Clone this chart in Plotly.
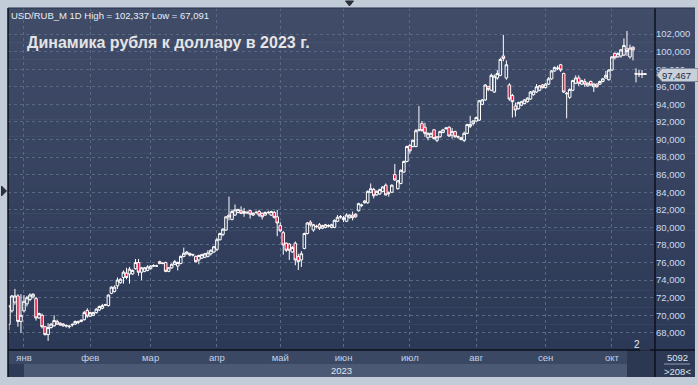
import plotly.graph_objects as go

# ---- data: USD/RUB daily candles (values in RUB) ----
opens = [
    68.97, 70.5, 71.5, 72.2, 69.3, 70.5, 71.3, 71.8, 72.1, 71.9,
    69.7, 70.0, 68.7, 67.8, 68.6, 68.8, 69.3, 69.1, 68.8, 68.85,
    68.7, 68.9, 69.0, 69.2, 69.3, 69.5, 70.55, 69.9, 70.0, 70.3,
    70.6, 70.8, 71.15, 71.1, 72.5, 72.7, 73.35, 73.7, 74.3, 74.8,
    74.7, 74.7, 75.3, 76.0, 74.9, 75.0, 75.1, 75.3, 75.6, 75.6,
    76.1, 75.95, 76.0, 75.0, 75.4, 75.8, 75.6, 75.9, 76.7, 77.0,
    77.05, 76.85, 76.7, 76.3, 76.5, 76.6, 76.7, 77.0, 77.2, 77.5,
    78.6, 79.2, 79.7, 81.4, 80.9, 81.4, 81.7, 81.9, 81.8, 81.65,
    81.9, 81.4, 81.7, 81.8, 81.6, 81.4, 81.7, 81.4, 81.7, 81.2,
    80.2, 79.4, 78.2, 78.1, 77.2, 78.2, 76.7, 76.3, 77.6, 79.3,
    80.6, 79.7, 80.1, 80.3, 79.9, 80.0, 80.15, 80.0, 80.0, 80.7,
    81.2, 80.9, 80.7, 81.1, 81.4, 81.2, 81.9, 82.55, 82.8, 82.8,
    84.0, 84.3, 83.7, 83.8, 84.1, 84.8, 83.9, 84.0, 86.0, 84.4,
    85.0, 86.3, 87.5, 89.3, 89.2, 89.2, 91.05, 91.8, 91.4, 90.2,
    90.3, 91.1, 89.9, 90.3, 90.8, 91.25, 91.4, 90.5, 90.9, 90.3,
    90.2, 89.9, 90.7, 91.5, 91.8, 92.1, 92.2, 94.0, 94.5, 96.0,
    95.6, 95.4, 97.0, 97.3, 99.5, 97.0, 96.2, 95.0, 93.8, 93.5,
    93.9, 94.1, 94.3, 94.6, 95.1, 95.4, 95.6, 96.2, 95.9, 96.3,
    96.9, 97.8, 98.1, 98.5, 97.5, 95.2, 94.8, 95.6, 96.4, 97.0,
    96.3, 96.6, 96.1, 96.6, 96.0, 96.3, 96.3, 96.6, 97.0, 96.8,
    97.9, 99.8, 99.4, 99.5, 99.6, 100.3, 99.4, 100.5, 97.5, 97.4,
    97.5, 97.4,
]
highs = [
    71.2, 72.3, 73.0, 72.4, 72.4, 72.3, 72.2, 72.5, 72.5, 72.1,
    70.3, 70.2, 68.8, 69.1, 69.1, 70.0, 69.5, 69.2, 69.1, 68.95,
    68.9, 69.1, 69.4, 69.4, 69.5, 70.5, 70.8, 70.4, 70.4, 70.8,
    71.1, 71.3, 71.3, 72.4, 73.3, 73.4, 74.3, 74.2, 75.1, 75.4,
    75.5, 75.2, 76.4, 76.4, 75.5, 75.5, 75.7, 75.7, 75.8, 75.75,
    76.2, 76.0, 76.1, 75.5, 75.9, 76.3, 76.1, 76.8, 77.7, 77.3,
    77.1, 77.0, 76.8, 76.9, 77.0, 77.1, 77.4, 77.5, 77.9, 78.8,
    79.4, 79.9, 81.3, 83.5, 82.0, 82.6, 82.1, 82.4, 82.2, 81.9,
    82.0, 81.7, 81.9, 82.0, 81.7, 81.8, 81.9, 81.9, 81.9, 82.0,
    80.6, 79.6, 78.3, 78.2, 77.9, 78.4, 77.0, 77.3, 79.4, 80.6,
    80.8, 80.4, 80.3, 80.5, 80.3, 80.4, 80.35, 80.4, 80.9, 81.4,
    81.4, 81.3, 81.6, 81.5, 81.8, 81.6, 82.8, 82.7, 83.1, 84.2,
    85.0, 84.5, 84.2, 84.4, 84.7, 85.0, 84.1, 84.9, 87.2, 85.4,
    86.6, 87.6, 89.3, 89.5, 90.0, 91.2, 93.8, 92.1, 91.9, 90.8,
    90.8, 91.2, 90.4, 91.0, 91.2, 91.4, 91.5, 91.3, 91.0, 90.45,
    90.3, 90.9, 91.8, 92.7, 92.2, 92.6, 94.5, 94.6, 96.3, 96.1,
    97.5, 97.4, 97.9, 99.3, 101.9, 99.0, 96.4, 95.2, 94.2, 94.3,
    94.4, 94.6, 94.8, 95.5, 95.6, 96.3, 96.2, 96.3, 96.4, 97.1,
    97.9, 98.3, 98.4, 98.6, 97.6, 95.4, 95.8, 96.8, 97.3, 97.3,
    96.8, 96.9, 96.5, 96.7, 96.4, 96.4, 96.7, 97.0, 97.8, 98.0,
    99.5, 99.9, 99.9, 100.3, 101.5, 102.337, 100.8, 100.6, 98.1, 97.9,
    97.9, 97.55,
]
lows = [
    68.3, 70.3, 71.2, 68.7, 68.0, 70.3, 71.0, 71.6, 71.9, 69.4,
    69.6, 68.5, 67.7, 67.091, 68.5, 68.7, 68.9, 68.8, 68.7, 68.6,
    68.5, 68.7, 68.9, 69.0, 69.2, 69.4, 69.7, 69.8, 69.9, 70.2,
    70.5, 70.7, 71.1, 71.0, 72.4, 72.6, 73.0, 73.6, 73.6, 74.1,
    73.6, 74.6, 75.2, 74.5, 74.0, 74.9, 75.0, 75.2, 75.5, 75.5,
    75.8, 75.8, 74.9, 74.9, 75.3, 75.7, 75.1, 75.8, 76.6, 76.9,
    76.7, 76.7, 76.0, 75.8, 76.4, 76.5, 76.6, 76.8, 77.1, 77.3,
    78.5, 79.0, 79.6, 80.8, 80.8, 81.3, 81.6, 81.5, 81.2, 81.5,
    81.0, 81.3, 81.5, 81.2, 80.9, 81.3, 81.5, 81.3, 81.0, 79.0,
    79.5, 76.9, 77.2, 76.3, 77.1, 75.7, 75.15, 75.5, 77.5, 79.2,
    80.1, 79.5, 79.9, 79.7, 79.8, 79.9, 80.0, 79.9, 79.9, 80.6,
    81.0, 80.6, 80.6, 81.0, 80.8, 81.1, 81.8, 82.3, 82.7, 82.7,
    83.9, 83.3, 83.6, 83.7, 84.0, 83.6, 83.5, 83.9, 85.3, 84.3,
    84.9, 86.2, 87.4, 88.4, 89.1, 89.1, 90.9, 90.9, 90.3, 89.9,
    90.2, 90.0, 89.7, 90.2, 90.7, 91.1, 90.3, 90.1, 90.2, 90.1,
    89.9, 89.7, 90.6, 91.3, 91.6, 92.0, 92.1, 93.9, 94.4, 95.5,
    95.5, 95.3, 96.8, 97.2, 98.9, 96.8, 94.4, 92.5, 92.6, 93.4,
    93.8, 94.0, 94.2, 94.5, 95.0, 95.3, 95.5, 95.8, 95.8, 96.2,
    96.8, 97.7, 97.9, 97.7, 95.3, 92.4, 94.6, 95.5, 96.3, 96.1,
    96.2, 96.0, 96.0, 96.1, 95.4, 95.9, 96.2, 96.5, 96.9, 96.7,
    97.8, 99.1, 99.3, 99.3, 99.5, 99.5, 99.2, 99.0, 96.5, 97.1,
    97.0, 97.35,
]
closes = [
    71.07, 72.2, 72.2, 69.3, 70.0, 71.6, 72.0, 72.3, 72.4, 69.7,
    70.2, 68.7, 67.8, 68.6, 69.0, 69.4, 69.0, 68.9, 69.0, 68.8,
    68.75, 68.95, 69.3, 69.25, 69.45, 70.3, 69.9, 70.3, 70.3, 70.7,
    71.0, 71.1, 71.2, 72.3, 73.2, 73.2, 74.0, 74.1, 74.9, 74.3,
    75.25, 75.1, 76.0, 74.9, 75.4, 75.4, 75.5, 75.6, 75.65, 75.6,
    75.9, 75.9, 75.0, 75.4, 75.8, 76.1, 76.0, 76.7, 77.05, 77.2,
    76.85, 76.9, 76.1, 76.8, 76.9, 77.0, 77.1, 77.4, 77.8, 78.6,
    79.3, 79.8, 81.2, 81.2, 81.8, 82.0, 82.05, 81.6, 81.6, 81.7,
    81.5, 81.6, 81.7, 81.4, 81.2, 81.7, 81.7, 81.8, 81.15, 80.5,
    79.6, 78.0, 77.4, 77.4, 77.7, 76.3, 76.1, 77.0, 79.3, 80.5,
    80.3, 80.3, 80.1, 79.9, 80.2, 80.3, 80.2, 80.3, 80.8, 81.15,
    81.2, 81.1, 81.4, 81.4, 81.1, 81.5, 82.7, 82.5, 83.0, 84.1,
    84.4, 83.6, 84.1, 84.3, 84.6, 83.7, 83.9, 84.8, 85.4, 85.3,
    86.5, 87.5, 89.2, 88.7, 89.9, 91.0, 91.1, 91.0, 90.7, 90.7,
    90.7, 90.1, 90.3, 90.9, 91.1, 91.3, 90.4, 90.9, 90.3, 90.3,
    90.0, 90.7, 91.7, 91.7, 92.1, 92.5, 94.4, 94.5, 96.2, 95.7,
    97.3, 97.2, 97.5, 99.1, 99.2, 98.5, 94.6, 94.3, 93.35, 94.2,
    94.3, 94.5, 94.7, 95.4, 95.5, 96.0, 96.1, 95.9, 96.3, 96.9,
    97.8, 98.2, 98.1, 97.9, 95.4, 95.25, 95.7, 96.7, 97.0, 96.4,
    96.7, 96.3, 96.4, 96.2, 96.3, 96.0, 96.6, 96.9, 97.3, 97.9,
    99.4, 99.3, 99.8, 100.2, 100.7, 100.0, 100.4, 100.2, 97.45, 97.45,
    97.4, 97.467,
]
bars = list(range(len(closes)))

month_labels = ["янв", "фев", "мар", "апр", "май", "июн", "июл", "авг", "сен", "окт"]
month_start_bar = [5, 27, 47, 69, 90, 111, 133, 155, 178, 200]

price_ticks = list(range(68, 104, 2))
price_tick_text = [f"{v:.3f}".replace(".", ",") for v in price_ticks]

last_price = closes[-1]
last_label = f"{last_price:.3f}".replace(".", ",")
header = "USD/RUB_M 1D High = {} Low = {}".format(
    f"{max(highs):.3f}".replace(".", ","), f"{min(lows):.3f}".replace(".", ","))
title = "Динамика рубля к доллару в 2023 г."

# ---- geometry helpers (pixel -> paper) ----
W, H = 698, 385
L, R, T, B = 8, 655, 8, 350
def X(px):
    return (px - L) / (R - L)
def Y(py):
    return (B - py) / (B - T)

shapes = []
# gradient background for plot + right price panel
n = 40
c_top = (64, 76, 104)
c_bot = (44, 57, 86)
for k in range(n):
    y0 = T + (B - T) * k / n
    y1 = T + (B - T) * (k + 1) / n + 0.5
    f = (k + 0.5) / n
    col = tuple(round(c_top[j] + (c_bot[j] - c_top[j]) * f) for j in range(3))
    shapes.append(dict(type="rect", xref="paper", yref="paper",
                       x0=X(L), x1=X(695), y0=Y(y1), y1=Y(y0),
                       fillcolor="rgb(%d,%d,%d)" % col, line=dict(width=0), layer="below"))
# bottom time-axis bands
def rect(x0, x1, y0, y1, color, layer="below"):
    shapes.append(dict(type="rect", xref="paper", yref="paper",
                       x0=X(x0), x1=X(x1), y0=Y(y1), y1=Y(y0),
                       fillcolor=color, line=dict(width=0), layer=layer))
rect(L, 627, 350, 364, "#3b4863")
rect(24, 627, 364, 377, "#4b5974")
rect(L, 24, 364, 377, "#2f3b56")
rect(627, 655, 350, 377, "#2c3852")
rect(655, 695, 350, 377, "#2e3a55")

def line(x0, y0, x1, y1, color="#0c111b", width=1.5, layer="above"):
    shapes.append(dict(type="line", xref="paper", yref="paper",
                       x0=X(x0), x1=X(x1), y0=Y(y0), y1=Y(y1),
                       line=dict(color=color, width=width), layer=layer))
line(L, 8, L, 377)
line(655, 8, 655, 377)
line(L, 350, 695, 350)
line(L, 8, 695, 8, color="#27314a", width=1)
line(664, 364, 690, 364, color="#8e9bb3", width=1)

def path(pts, fill, linecolor=None, layer="above"):
    d = "M " + " L ".join("%f,%f" % (X(a), Y(b)) for a, b in pts) + " Z"
    shapes.append(dict(type="path", xref="paper", yref="paper", path=d,
                       fillcolor=fill, line=dict(color=linecolor or fill, width=1), layer=layer))
# little triangles
path([(345.5, 1), (353.5, 1), (349.5, 6)], "#2a2f3a")
path([(1.5, 186), (6.5, 191), (1.5, 196)], "#2a2f3a")
path([(640, 350), (645, 345), (650, 350)], "#2c3852")
# current price tag
path([(662, 68.5), (698, 68.5), (698, 81.5), (662, 81.5), (656.5, 75)], "#c9d0d8", "#7d8aa0")

annotations = [
    dict(text=header, x=X(10), y=Y(15), xanchor="left", yanchor="middle",
         font=dict(family="Liberation Sans, Arial", size=9.5, color="#e8eef7")),
    dict(text=title, x=X(26), y=Y(42.5), xanchor="left", yanchor="middle",
         font=dict(family="Liberation Sans, Arial", size=16, color="#e4e4e6", weight="bold")),
    dict(text="2023", x=X(341), y=Y(370.5), xanchor="center", yanchor="middle",
         font=dict(family="Liberation Sans, Arial", size=9.5, color="#dfe7f2")),
    dict(text="2", x=X(637), y=Y(344.5), xanchor="center", yanchor="middle",
         font=dict(family="Liberation Sans, Arial", size=10, color="#e4ebf5")),
    dict(text="5092", x=X(677), y=Y(357.5), xanchor="center", yanchor="middle",
         font=dict(family="Liberation Sans, Arial", size=9.5, color="#dfe7f2")),
    dict(text="&gt;208&lt;", x=X(677), y=Y(371), xanchor="center", yanchor="middle",
         font=dict(family="Liberation Sans, Arial", size=9.5, color="#dfe7f2")),
    dict(text=last_label, x=X(676), y=Y(75), xanchor="center", yanchor="middle",
         font=dict(family="Liberation Sans, Arial", size=9.5, color="#1e2942")),
]
for a in annotations:
    a.update(xref="paper", yref="paper", showarrow=False, borderpad=0)

fig = go.Figure()
fig.add_trace(go.Candlestick(
    x=bars, open=opens, high=highs, low=lows, close=closes,
    increasing=dict(line=dict(color="#ffffff", width=1), fillcolor="rgba(0,0,0,0)"),
    decreasing=dict(line=dict(color="#ffffff", width=1), fillcolor="#e5123d"),
    whiskerwidth=0, showlegend=False, hoverinfo="skip",
))

grid = "#5b6884"
fig.update_layout(
    width=W, height=H, autosize=False,
    margin=dict(l=L, r=W - R, t=T, b=H - B, pad=0),
    paper_bgcolor="#c2ccd9", plot_bgcolor="rgba(0,0,0,0)",
    shapes=shapes, annotations=annotations, showlegend=False,
    boxgap=0.15, boxgroupgap=0,
    xaxis=dict(range=[-0.3, 214.3], tickvals=month_start_bar, ticktext=month_labels,
               showgrid=True, gridcolor=grid, griddash="3px,3px", gridwidth=1,
               zeroline=False, showline=False, ticks="", automargin=False,
               rangeslider=dict(visible=False), fixedrange=True,
               tickfont=dict(family="Liberation Sans, Arial", size=9.5, color="#c3d0e6")),
    yaxis=dict(side="right", range=[66.05, 104.96], tickvals=price_ticks, ticktext=price_tick_text,
               showgrid=True, gridcolor=grid, griddash="3px,3px", gridwidth=1,
               zeroline=False, showline=False, ticks="", automargin=False, fixedrange=True,
               tickfont=dict(family="Liberation Sans, Arial", size=9.5, color="#cddaee")),
)

fig.write_html("out.html", config={"displayModeBar": False})

# remove the browser's default page margin so the figure sits at the window origin
with open("out.html", "r", encoding="utf-8") as fh:
    html = fh.read()
html = html.replace("<head>", "<head><style>html,body{margin:0;padding:0;overflow:hidden;}</style>", 1)
with open("out.html", "w", encoding="utf-8") as fh:
    fh.write(html)
